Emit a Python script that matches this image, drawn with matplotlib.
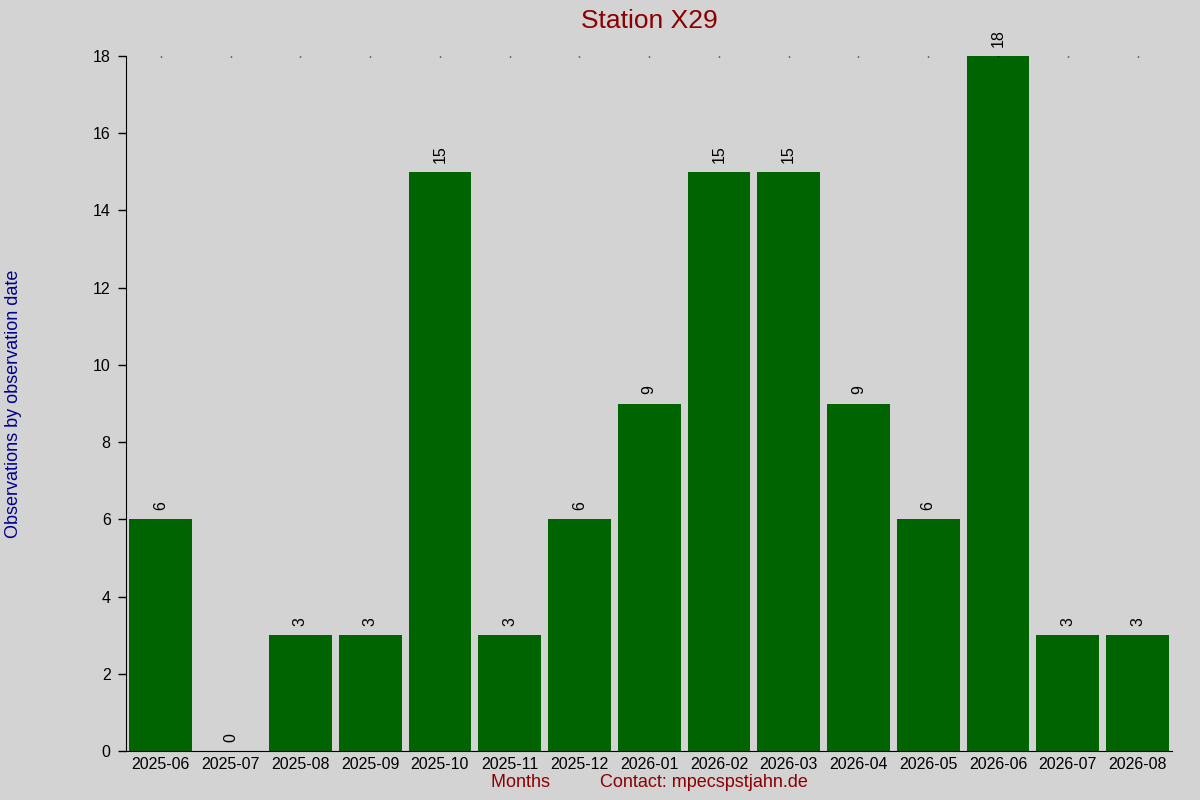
import matplotlib
matplotlib.use("Agg")
import matplotlib.pyplot as plt

months = ["2025-06", "2025-07", "2025-08", "2025-09", "2025-10", "2025-11", "2025-12",
          "2026-01", "2026-02", "2026-03", "2026-04", "2026-05", "2026-06", "2026-07", "2026-08"]
counts = [6, 0, 3, 3, 15, 3, 6, 9, 15, 15, 9, 6, 18, 3, 3]

plt.rcParams['font.family'] = ['Liberation Sans', 'DejaVu Sans']

fig = plt.figure(figsize=(12, 8), dpi=100, facecolor='#d3d3d3')
ax = fig.add_axes([0.105, 0.06125, 0.872, 0.86875])
ax.set_facecolor('#d3d3d3')

x = list(range(len(months)))
ax.bar(x, counts, width=0.9, color='#006400')
for xi, c in zip(x, counts):
    ax.annotate(str(c), (xi, c), xytext=(0, 6.5), textcoords='offset points',
                rotation=90, ha='center', va='bottom', fontsize=11.5)

ax.set_xlim(-0.5, len(months) - 0.5)
ax.set_ylim(0, 18)
ax.set_yticks(range(0, 19, 2))
ax.set_xticks(x)
ax.set_xticklabels(months)
ax.tick_params(axis='x', bottom=False, top=True, labelbottom=True, labeltop=False,
               length=1, width=1, direction='in', labelsize=11.5, pad=4)
ax.tick_params(axis='y', length=6, width=1, labelsize=11.5, pad=5)

for s in ['top', 'right']:
    ax.spines[s].set_visible(False)

ax.set_title("Station X29", color='#8b0000', fontsize=19, pad=20)
ax.set_xlabel("Months" + " " * 10 + "Contact: mpecspstjahn.de", color='#8b0000',
              fontsize=13, labelpad=2)
ax.set_ylabel("Observations by observation date", color='#00008b', fontsize=13)
ax.yaxis.set_label_coords(-0.099, 0.5)

fig.savefig("out.png", dpi=100, facecolor=fig.get_facecolor())
